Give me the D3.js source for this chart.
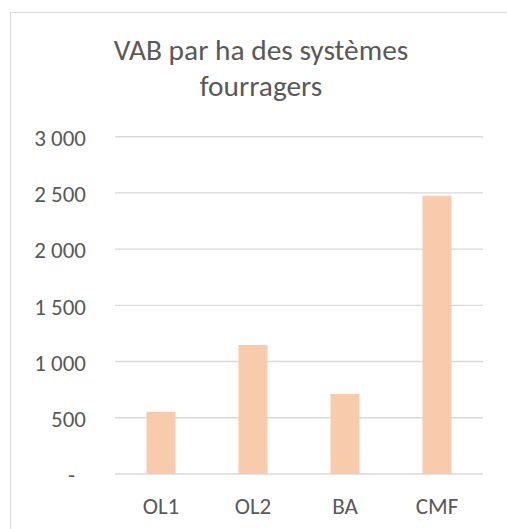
<!DOCTYPE html>
<html>
<head>
<meta charset="utf-8">
<script src="https://cdn.jsdelivr.net/npm/d3@7"></script>
<style>
  html, body { margin: 0; padding: 0; background: #fff; }
  svg { display: block; font-family: Carlito, Calibri, Lato, sans-serif; }
</style>
</head>
<body>
<svg id="chart" width="507" height="529"></svg>
<script>
// VAB per hectare for each forage system
const categories = ["OL1", "OL2", "BA", "CMF"];
const vabValues = [553, 1148, 712, 2475];
const yTicks = [0, 500, 1000, 1500, 2000, 2500, 3000];
const titleLines = ["VAB par ha des systèmes", "fourragers"];

const svg = d3.select("#chart");
const margin = { left: 115, right: 483, top: 136.7, bottom: 474 };

// chart frame
svg.append("rect")
  .attr("x", 10.5).attr("y", 12.5)
  .attr("width", 520).attr("height", 540)
  .attr("fill", "#fff")
  .attr("stroke", "#d9d9d9")
  .attr("stroke-width", 1);

const x = d3.scaleBand()
  .domain(categories)
  .range([margin.left, margin.right])
  .paddingInner(0.685)
  .paddingOuter(0.3425);

const y = d3.scaleLinear()
  .domain([0, 3000])
  .range([margin.bottom, margin.top]);

// title
svg.append("text")
  .attr("x", 261).attr("y", 59.5)
  .attr("text-anchor", "middle")
  .attr("fill", "#595959")
  .style("font-size", "29.4px")
  .selectAll("tspan")
  .data(titleLines)
  .join("tspan")
  .attr("x", 261)
  .attr("dy", (d, i) => i === 0 ? 0 : 36.5)
  .text(d => d);

// horizontal gridlines
svg.append("g")
  .selectAll("line")
  .data(yTicks)
  .join("line")
  .attr("x1", margin.left).attr("x2", margin.right)
  .attr("y1", d => y(d)).attr("y2", d => y(d))
  .attr("stroke", "#d9d9d9")
  .attr("stroke-width", 1.4);

// y axis labels (accounting style: zero shown as a dash)
const fmt = d => d === 0 ? "-" : d3.format(",")(d).replace(/,/g, "\u00a0");
const yAxis = d3.axisLeft(y).tickValues(yTicks).tickFormat(fmt).tickSize(0).tickPadding(0);
const gy = svg.append("g")
  .attr("transform", "translate(86,0)")
  .call(yAxis);
gy.select(".domain").remove();
gy.selectAll("text")
  .attr("fill", "#595959")
  .style("font-family", "Carlito, Calibri, Lato, sans-serif")
  .style("font-size", "23px")
  .attr("dx", d => d === 0 ? -11 : 0)
  .attr("dy", "0.38em");

// bars
svg.append("g")
  .selectAll("rect")
  .data(categories.map((c, i) => ({ c, v: vabValues[i] })))
  .join("rect")
  .attr("x", d => x(d.c))
  .attr("width", x.bandwidth())
  .attr("y", d => y(d.v))
  .attr("height", d => y(0) - y(d.v))
  .attr("fill", "#F8CBAD");

// category axis labels
const xAxis = d3.axisBottom(x).tickSize(0).tickPadding(0);
const gx = svg.append("g")
  .attr("transform", `translate(0,${margin.bottom})`)
  .call(xAxis);
gx.select(".domain").remove();
gx.selectAll("text")
  .attr("fill", "#595959")
  .style("font-family", "Carlito, Calibri, Lato, sans-serif")
  .style("font-size", "23px")
  .attr("y", 32)
  .attr("dy", "0.35em");
</script>
</body>
</html>
